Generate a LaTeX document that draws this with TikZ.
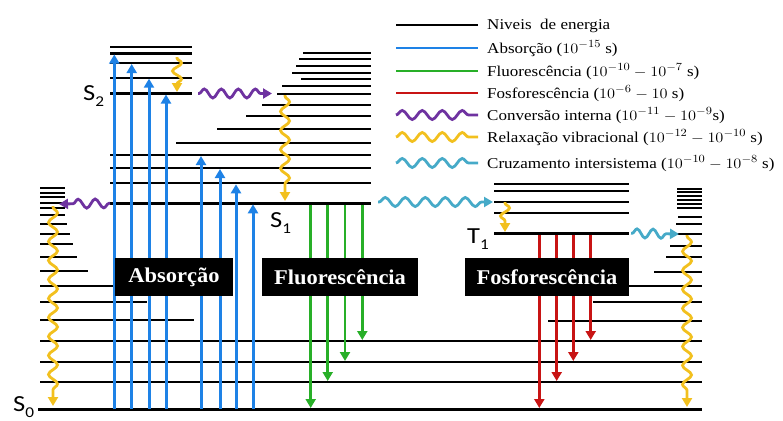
\documentclass[tikz,border=0pt]{standalone}
\usepackage{fontspec}
\setmainfont{Liberation Serif}
\newfontfamily\labfont{Carlito}
\usepackage{graphicx}
\usetikzlibrary{decorations.pathmorphing,arrows.meta}
\definecolor{absblue}{RGB}{30,130,230}
\definecolor{flgreen}{RGB}{40,175,40}
\definecolor{phred}{RGB}{200,20,20}
\definecolor{icpurple}{RGB}{110,50,160}
\definecolor{vryellow}{RGB}{242,192,30}
\definecolor{isccyan}{RGB}{70,170,200}
\tikzset{
  lvl/.style={line width=2pt},
  slvl/.style={line width=3pt},
  tipA/.style={-{Triangle[length=9pt,width=10pt]}},
  absarrow/.style={absblue,line width=3pt,tipA},
  flarrow/.style={flgreen,line width=2.8pt,tipA},
  pharrow/.style={phred,line width=3pt,tipA},
  wavy/.style={line width=2.8pt,decorate,decoration={snake,amplitude=4.5pt,segment length=#1,pre length=1pt,post length=8pt},-{Triangle[length=9pt,width=10pt]}},
  wavy/.default=18pt,
  legwave/.style={line width=2.8pt,decorate,decoration={snake,amplitude=4.5pt,segment length=20pt}},
  labelbox/.style={fill=black,text=white,minimum height=38pt,inner sep=0pt,font=\fontsize{21}{21}\selectfont\bfseries},
  leglabel/.style={anchor=base west,inner sep=0pt,font=\fontsize{15}{15}\selectfont},
  statelabel/.style={anchor=base west,inner sep=0pt,font=\labfont\fontsize{23}{23}\selectfont}
}
\newcommand{\stlab}[2]{\scalebox{1.15}[1]{#1\raisebox{-6pt}{\fontsize{15}{15}\selectfont #2}}}
\newcommand{\legtxt}[1]{\scalebox{1.135}[1]{#1}}
\begin{document}
\begin{tikzpicture}[x=1pt,y=-1pt]
\useasboundingbox (0,0) rectangle (783,420);
% ---- S0 levels
\foreach \y/\xr in {188/65,193/65,197/65,203/65,208/65,215/65,224/67,234/70,244/73,257/77,271/88,286/115,302/147,320/194}
  \draw[lvl] (40,\y) -- (\xr,\y);
\foreach \y/\xl in {189/677,192.3/677,195.7/677,200/677,204.3/677,208.3/677,216.7/678,224.3/676,234.3/672,245.7/670,257.3/666,271.7/654,286/627,302/593,321/548}
  \draw[lvl] (\xl,\y) -- (702,\y);
\foreach \y in {341,362,382}
  \draw[lvl] (40,\y) -- (702,\y);
\draw[slvl] (38,409.3) -- (702,409.3);
% ---- S2 levels
\foreach \y in {47.5,53.5,63,77.7}
  \draw[lvl] (110,\y) -- (192,\y);
\draw[slvl] (110,93.5) -- (192,93.5);
% ---- S1 levels
\foreach \y/\xl in {142.7/176,129.3/217,116/246,105.3/262,93.5/277,86/282,79.3/301,72.5/292,65.5/296,59/299,53.3/303,155/110,168/110,183.3/110}
  \draw[lvl] (\xl,\y) -- (371,\y);
\draw[slvl] (110,203.3) -- (371,203.3);
% ---- T1 levels
\foreach \y in {184,190.7,201.7,213.3}
  \draw[lvl] (494,\y) -- (629,\y);
\draw[slvl] (494,233.3) -- (629,233.3);
% ---- absorption
\foreach \x/\y in {114.3/53.5,131.7/63,149/77.7,166/93.5,201/155,220/168,236/183.3,253/203.3}
  \draw[absarrow] (\x,409) -- (\x,\y+1);
% ---- fluorescence
\foreach \x/\y in {310.7/409,327.7/382,345/362,362.3/341}
  \draw[flarrow] (\x,204.5) -- (\x,\y-1);
% ---- phosphorescence
\foreach \x/\y in {539.3/409,556.7/382,573.3/362,590.7/341}
  \draw[pharrow] (\x,234.5) -- (\x,\y-1);
% ---- wavy processes
\coordinate (ic2a) at (198,93.5);  \coordinate (ic2b) at (272,93.5);
\coordinate (ic1a) at (110,203.3); \coordinate (ic1b) at (59,204);
\draw[wavy=17pt,icpurple] (ic2a) -- (ic2b);
\draw[wavy=17pt,icpurple] (ic1a) -- (ic1b);
\coordinate (vr2a) at (177,57);  \coordinate (vr2b) at (177,92);
\coordinate (vr1a) at (285,95);  \coordinate (vr1b) at (285,201);
\coordinate (vr0a) at (53,206);  \coordinate (vr0b) at (53,406);
\coordinate (vrta) at (505,202); \coordinate (vrtb) at (505,232);
\coordinate (vr0c) at (687,235); \coordinate (vr0d) at (687,407);
\draw[wavy=16pt,vryellow] (vr2a) -- (vr2b);
\draw[wavy=19pt,vryellow] (vr1a) -- (vr1b);
\draw[wavy=19pt,vryellow] (vr0a) -- (vr0b);
\draw[wavy=16pt,vryellow] (vrta) -- (vrtb);
\draw[wavy=19pt,vryellow] (vr0c) -- (vr0d);
\coordinate (isa) at (378,202); \coordinate (isb) at (493,202);
\coordinate (isc) at (631,233.3); \coordinate (isd) at (679,234);
\draw[wavy=20pt,isccyan] (isa) -- (isb);
\draw[wavy=16pt,isccyan] (isc) -- (isd);
% ---- label boxes
\node[labelbox,minimum width=118pt] (babs) at (174,277) {\scalebox{1.07}[1]{Absorção}};
\node[labelbox,minimum width=156pt] (bfl) at (340,277) {\scalebox{1.07}[1]{Fluorescência}};
\node[labelbox,minimum width=164pt] (bph) at (547,277) {\scalebox{1.07}[1]{Fosforescência}};
% ---- state labels
\node[statelabel] (lS2) at (83,100) {\stlab{S}{2}};
\node[statelabel] (lS1) at (270,227) {\stlab{S}{1}};
\node[statelabel] (lS0) at (13,411) {\stlab{S}{0}};
\node[statelabel] (lT1) at (467,243) {\stlab{T}{1}};
% ---- legend
\draw[lvl,line width=2.6pt] (396,25) -- (478,25);
\draw[absblue,line width=2.6pt] (396,48) -- (478,48);
\draw[flgreen,line width=2.6pt] (396,71) -- (478,71);
\draw[phred,line width=2.6pt] (396,93) -- (478,93);
\draw[legwave,icpurple] (396,115) -- (478,115);
\draw[legwave,vryellow] (396,137) -- (478,137);
\draw[legwave,isccyan] (396,163) -- (478,163);
\node[leglabel] (t1) at (487,30) {\legtxt{Niveis\ \ de energia}};
\node[leglabel] (t2) at (487,53) {\legtxt{Absorção ($10^{-15}$ s)}};
\node[leglabel] (t3) at (487,76) {\legtxt{Fluorescência ($10^{-10}-10^{-7}$ s)}};
\node[leglabel] (t4) at (487,98) {\legtxt{Fosforescência ($10^{-6}-10$ s)}};
\node[leglabel] (t5) at (487,120) {\legtxt{Conversão interna ($10^{-11}-10^{-9}$s)}};
\node[leglabel] (t6) at (487,142) {\legtxt{Relaxação vibracional ($10^{-12}-10^{-10}$ s)}};
\node[leglabel] (t7) at (487,168) {\legtxt{Cruzamento intersistema ($10^{-10}-10^{-8}$ s)}};
\end{tikzpicture}
\end{document}
